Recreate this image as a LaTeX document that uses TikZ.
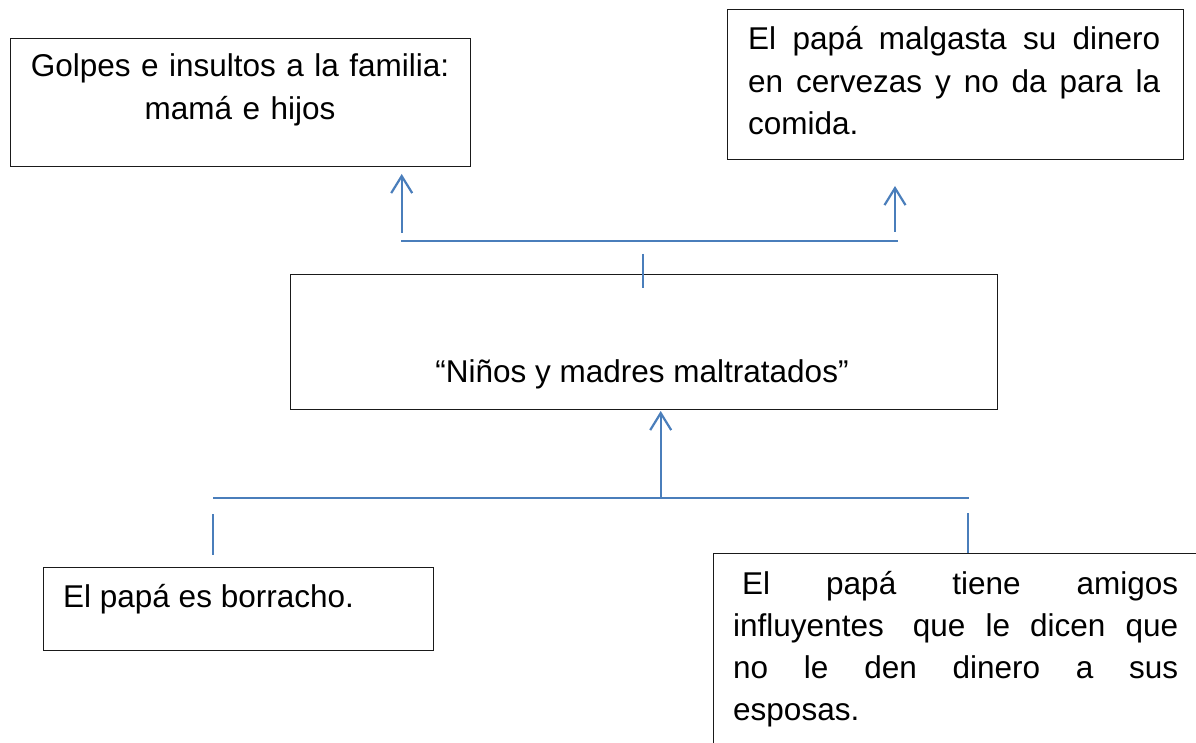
\documentclass[tikz,border=0pt]{standalone}
\usepackage{fontspec}
\setmainfont{Liberation Sans}
\usetikzlibrary{arrows.meta}
\definecolor{lineblue}{HTML}{4A7EBB}
\definecolor{boxline}{HTML}{1A1A1A}
\tikzset{
  box/.style={draw=boxline, line width=1.1pt, rectangle, inner sep=0pt, anchor=north west},
  txt/.style={inner sep=0pt, font=\fontsize{31.5}{42.3}\selectfont},
  conn/.style={draw=lineblue, line width=1.8pt},
  tickline/.style={draw=lineblue, line width=1.4pt},
  arr/.style={draw=lineblue, line width=2.2pt, -{Straight Barb[length=17pt,width=21pt]}},
}
\begin{document}
\begin{tikzpicture}[x=1pt,y=-1pt]
\useasboundingbox (0,0) rectangle (1196,743);
\fill[white] (0,0) rectangle (1196,743);
\clip (0,0) rectangle (1196,743);

% boxes
\node[box, minimum width=460pt, minimum height=128pt] (tl) at (10,38) {};
\node[box, minimum width=456pt, minimum height=150pt] (tr) at (727,9) {};
\node[box, minimum width=707pt, minimum height=135pt] (ce) at (290,274) {};
\node[box, minimum width=390pt, minimum height=83pt] (bl) at (43,567) {};
\node[box, minimum width=497pt, minimum height=207pt] (br) at (713,553) {};

% texts
\node[txt, anchor=base, text width=440pt, align=center] (tltext) at (240,77)
  {Golpes e insultos a la familia:\\ mamá e hijos};
\node[txt, anchor=base west, text width=412pt, align=justify] (trtext) at (748,50)
  {El papá malgasta su dinero\linebreak en cervezas y no da para la\linebreak comida.};
\node[txt, anchor=base] (cetext) at (642,382.5) {“Niños y madres maltratados”};
\node[txt, anchor=base west] (bltext) at (63,607) {El papá es borracho.};
\node[txt, anchor=base west, text width=445pt, align=justify] (brtext) at (733,594)
  {\hspace*{9pt}El papá tiene amigos\linebreak influyentes\hspace{9pt} que le dicen que\linebreak no le den dinero a sus\linebreak esposas.};

% connector coordinates
\coordinate (topL) at (401,240.7);
\coordinate (topR) at (898,240.7);
\coordinate (arLs) at (401.7,233);
\coordinate (arLe) at (401.7,174);
\coordinate (arRs) at (895,232);
\coordinate (arRe) at (895,186);
\coordinate (tkTs) at (643,254);
\coordinate (tkTe) at (643,288);
\coordinate (botL) at (213,497.7);
\coordinate (botR) at (968.7,497.7);
\coordinate (arCs) at (660.7,497.7);
\coordinate (arCe) at (660.7,411);
\coordinate (tkLs) at (213,514);
\coordinate (tkLe) at (213,555);
\coordinate (tkRs) at (968,513);
\coordinate (tkRe) at (968,553);

% connectors
\draw[conn] (topL) -- (topR);
\draw[arr] (arLs) -- (arLe);
\draw[arr] (arRs) -- (arRe);
\draw[tickline] (tkTs) -- (tkTe);
\draw[conn] (botL) -- (botR);
\draw[arr] (arCs) -- (arCe);
\draw[tickline] (tkLs) -- (tkLe);
\draw[tickline] (tkRs) -- (tkRe);
\end{tikzpicture}
\end{document}
